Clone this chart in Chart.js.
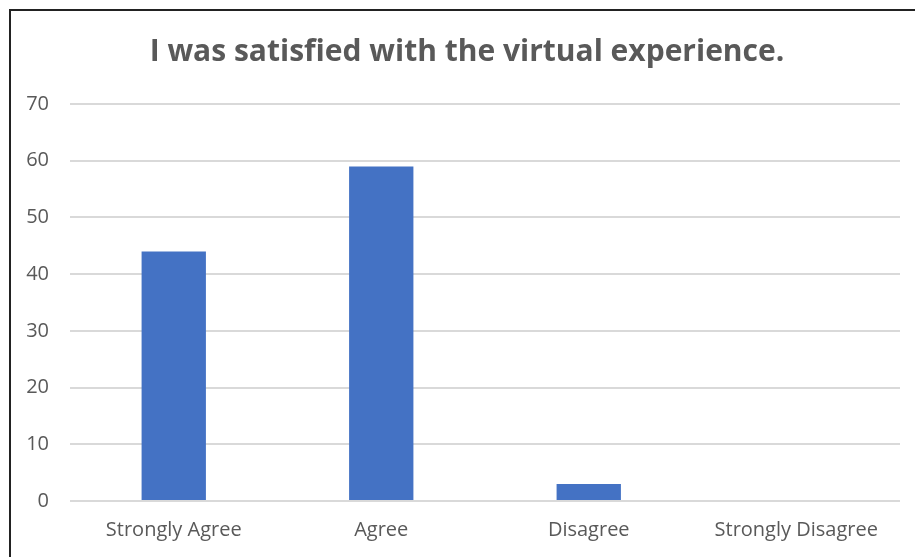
<!DOCTYPE html>
<html>
<head>
<meta charset="utf-8">
<script src="https://cdn.jsdelivr.net/npm/chart.js@4"></script>
<style>
  html, body { margin: 0; padding: 0; background: #fff; }
  #wrap { position: absolute; left: 0; top: 0; width: 915px; height: 557px; }
  #frame { position: absolute; left: 9px; top: 9px; width: 920px; height: 560px;
           border-left: 2px solid #222; border-top: 2px solid #222; pointer-events: none; }
</style>
</head>
<body>
<div id="wrap">
  <canvas id="myChart" width="915" height="557"></canvas>
  <div id="frame"></div>
</div>
<script>
var categories = ["Strongly Agree", "Agree", "Disagree", "Strongly Disagree"];
var counts = [44, 59, 3, 0];
var yTicks = [0, 10, 20, 30, 40, 50, 60, 70];

var textColor = "#595959";

// title in the original sits a bit right of the canvas centre
const shiftTitle = {
  id: "shiftTitle",
  afterLayout: function (chart) {
    if (chart.titleBlock) chart.titleBlock.left = 34;
  }
};

new Chart("myChart", {
  type: "bar",
  data: {
    labels: categories,
    datasets: [{
      data: counts,
      backgroundColor: "#4472C4",
      barPercentage: 0.31,
      categoryPercentage: 1
    }]
  },
  options: {
    responsive: false,
    animation: false,
    layout: { padding: { left: 0, right: 15, top: 0, bottom: 0 } },
    plugins: {
      legend: { display: false },
      tooltip: { enabled: false },
      title: {
        display: true,
        text: "I was satisfied with the virtual experience.",
        color: textColor,
        font: { family: "Open Sans", size: 30, weight: "bold" },
        padding: { top: 34, bottom: 34 }
      }
    },
    scales: {
      x: {
        grid: { display: false, drawTicks: false },
        border: { display: false },
        ticks: { color: textColor, font: { family: "Open Sans", size: 20 }, padding: 17 },
        afterFit: function (scale) { scale.height = 56; }
      },
      y: {
        min: 0,
        max: 70,
        afterBuildTicks: function (scale) {
          scale.ticks = yTicks.map(function (v) { return { value: v }; });
        },
        grid: { color: "#d9d9d9", lineWidth: 2, drawTicks: false },
        border: { display: false },
        ticks: { color: textColor, font: { family: "Open Sans", size: 20 }, padding: 21 },
        afterFit: function (scale) { scale.width = 70; }
      }
    }
  },
  plugins: [shiftTitle]
});
</script>
</body>
</html>
